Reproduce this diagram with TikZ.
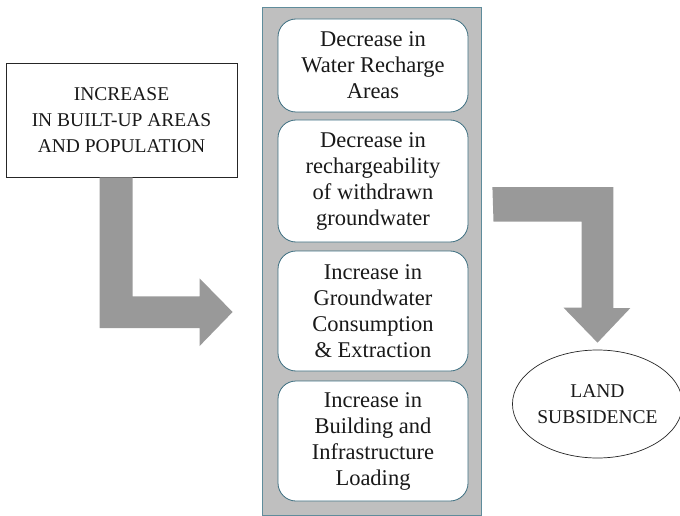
\documentclass[tikz,border=0pt]{standalone}
\usepackage{fontspec}
\setmainfont{Liberation Serif}
\usetikzlibrary{shapes.geometric,calc}
\definecolor{arrowgray}{RGB}{153,153,153}
\definecolor{colgray}{RGB}{191,191,191}
\definecolor{colborder}{RGB}{95,140,155}
\definecolor{boxborder}{RGB}{60,110,128}
\definecolor{txt}{RGB}{25,25,25}
\tikzset{
  capstext/.style={font=\fontsize{19.5}{26}\selectfont, text=txt, align=center},
  stagebox/.style={draw=boxborder, line width=0.8pt, fill=white, rounded corners=18pt,
     minimum width=190pt, inner sep=0pt, align=center, text=txt,
     font=\fontsize{22.5}{26}\selectfont},
  blockarrow/.style={fill=arrowgray, draw=none},
}
\begin{document}
\begin{tikzpicture}[x=1pt,y=-1pt]
\useasboundingbox (0,0) rectangle (680,516);
% left cause box
\node[draw=black!85, line width=0.8pt, minimum width=231pt, minimum height=114pt, inner sep=0pt, capstext]
  (inc) at (121.5,120) {INCREASE\\IN BUILT-UP AREAS\\AND POPULATION};
% column
\node[draw=colborder, line width=0.8pt, fill=colgray, minimum width=219pt, minimum height=508pt, inner sep=0pt]
  (col) at (371.5,261) {};
% stage boxes
\node[stagebox, minimum height=93pt]  (b1) at (373,65.5) {Decrease in\\Water Recharge\\Areas};
\node[stagebox, minimum height=122pt] (b2) at (373,181) {Decrease in\\rechargeability\\of withdrawn\\groundwater};
\node[stagebox, minimum height=120pt] (b3) at (373,311) {Increase in\\Groundwater\\Consumption\\\& Extraction};
\node[stagebox, minimum height=120pt] (b4) at (373,441) {Increase in\\Building and\\Infrastructure\\Loading};
% result ellipse
\node[ellipse, draw=black!85, line width=0.7pt, fill=white, minimum width=164pt, minimum height=108pt, inner sep=0pt, capstext]
  (land) at (597.5,404) {LAND\\SUBSIDENCE};
% left block arrow: from cause box to column
\fill[blockarrow] ([xshift=94pt]inc.south west) -- ++(33,0) -- ++(0,119) -- ++(67,0) -- ++(0,-18)
  -- ([xshift=-29pt]col.west |- 0,312) -- ++(-33,34) -- ++(0,-18) -- ++(-100,0) -- cycle;
% right block arrow: from column to ellipse
\fill[blockarrow] ([xshift=11pt]col.east |- 0,187) -- ++(121,0) -- ++(0,121) -- ++(17,0)
  -- ([yshift=7pt]land.north) -- ++(-34,-35) -- ++(18,0) -- ++(0,-86) -- ++(-88,0) -- cycle;
\end{tikzpicture}
\end{document}
